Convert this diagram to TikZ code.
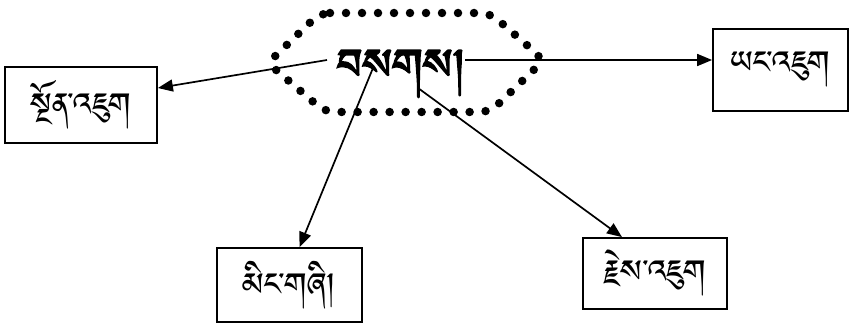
\documentclass[tikz,border=0pt]{standalone}
\usepackage{fontspec}
\usetikzlibrary{arrows.meta}
\IfFontExistsTF{Jomolhari}{\def\tibname{Jomolhari}}{%
 \IfFontExistsTF{Tibetan Machine Uni}{\def\tibname{Tibetan Machine Uni}}{%
  \IfFontExistsTF{Noto Serif Tibetan}{\def\tibname{Noto Serif Tibetan}}{%
   \IfFontExistsTF{Noto Sans Tibetan}{\def\tibname{Noto Sans Tibetan}}{%
    \def\tibname{FreeSerif}}}}}
\newfontfamily\tib[Script=Tibetan]{\tibname}
\newfontfamily\tibbold[Script=Tibetan,FakeBold=2.5]{\tibname}
\begin{document}
\begin{tikzpicture}[x=1pt,y=-1pt,
  box/.style={draw,line width=1.8pt,inner sep=0pt,font=\tib\fontsize{40}{46}\selectfont},
  link/.style={line width=1.7pt,-{Triangle[length=15pt,width=12pt]}},
  dots/.style={line width=8.5pt,line cap=round,dash pattern=on 0pt off 16pt}]
\useasboundingbox (0,0) rectangle (850,323);
\fill[white] (0,0) rectangle (850,323);
% dotted outline
\draw[dots,rounded corners=10pt] (320,13) -- (490,13) -- (544,60) -- (490,112) -- (325,112) -- (268,63) -- cycle;
% centre word
\node[inner sep=0pt,anchor=base,font=\tibbold\fontsize{54}{60}\selectfont] (c) at (401,90) {བསགས།};
\coordinate (s1) at (327,60);
\coordinate (s2) at (465,60);
\coordinate (s3) at (373,68);
\coordinate (s4) at (418,88);
% boxes
\node[box,minimum width=152pt,minimum height=76pt] (L) at (81,105) {སྔོན་འཇུག};
\node[box,minimum width=135pt,minimum height=82pt] (R) at (780.5,70) {ཡང་འཇུག};
\node[box,minimum width=145pt,minimum height=74pt] (BL) at (289.5,285) {མིང་གཞི།};
\node[box,minimum width=144pt,minimum height=71pt] (BR) at (655,273.5) {རྗེས་འཇུག};
% connectors
\draw[link] (s1) -- ([yshift=17pt]L.east);
\draw[link] (s2) -- ([yshift=10pt]R.west);
\draw[link] (s3) -- ([xshift=10pt]BL.north);
\draw[link] (s4) -- ([xshift=-33pt]BR.north);
\end{tikzpicture}
\end{document}
